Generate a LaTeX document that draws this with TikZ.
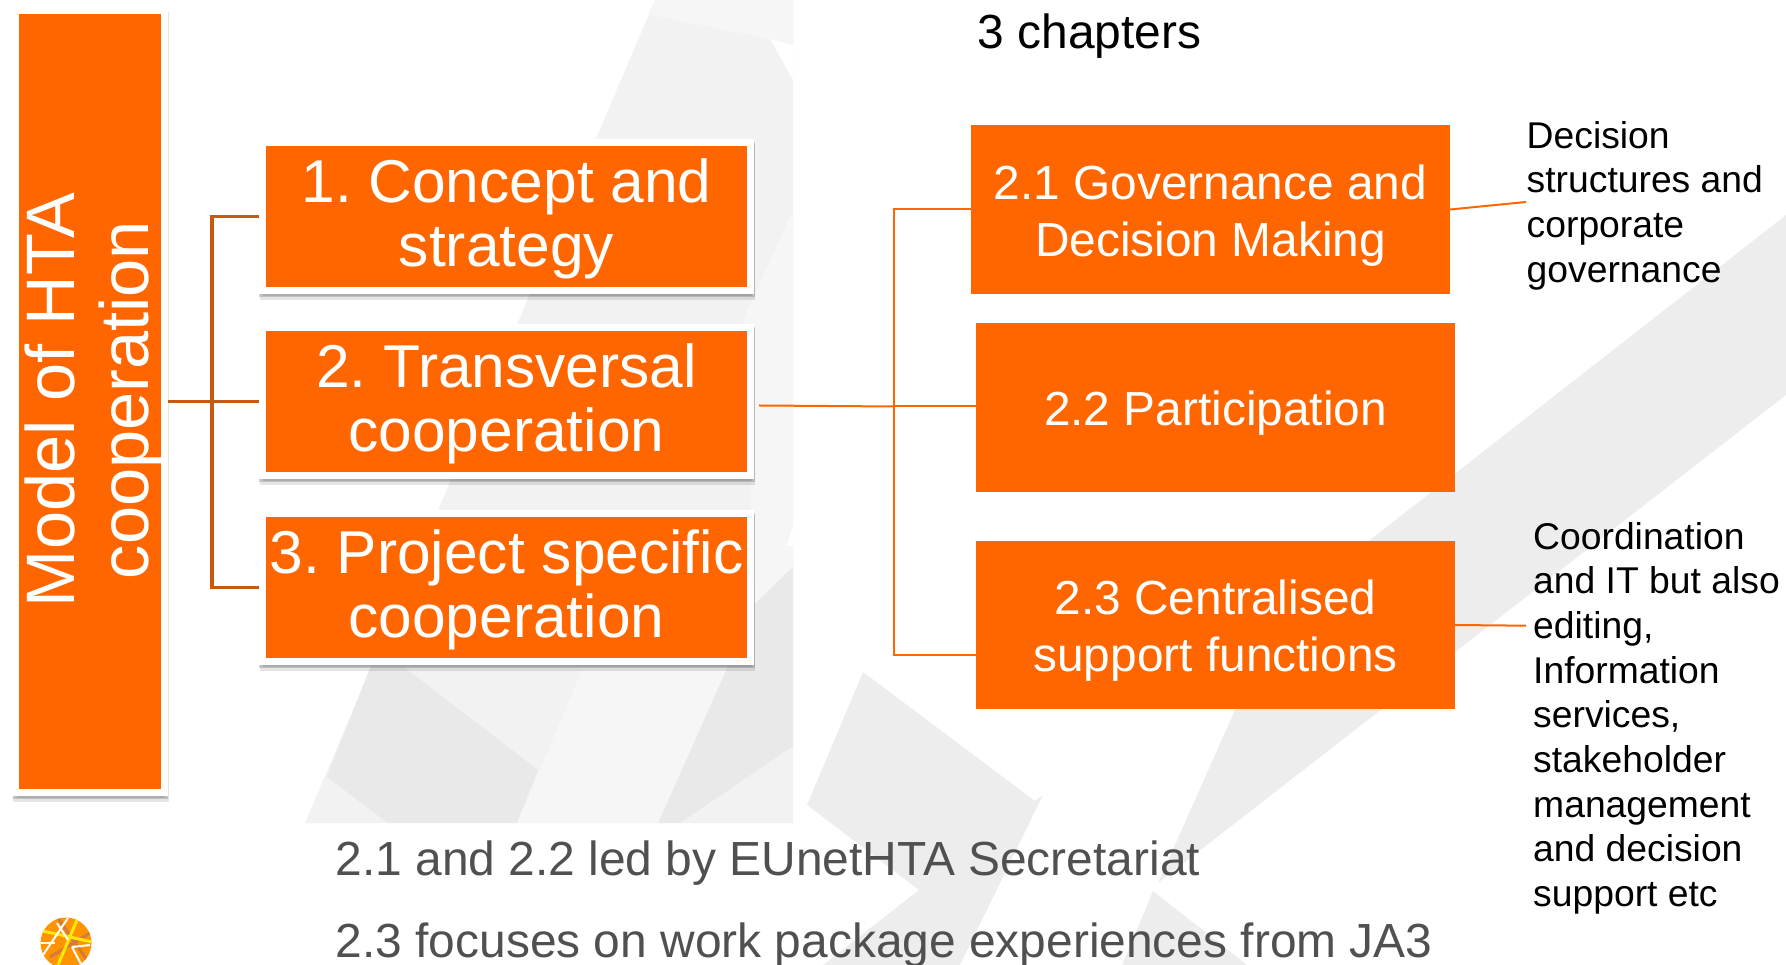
\documentclass[tikz,border=0pt]{standalone}
\usepackage{fontspec}
\setmainfont{Liberation Sans}
\frenchspacing
\usetikzlibrary{positioning,shadows}
\definecolor{htaorange}{HTML}{FF6600}
\definecolor{htabrown}{HTML}{C55A11}
\definecolor{htagrey}{HTML}{505050}
\newcommand{\subup}{\rule{0pt}{0.46cm}}
\newcommand{\levelup}{\rule{0pt}{0.48cm}}
\newcommand{\modelup}{\rule{0pt}{0.57cm}}
\tikzset{
    softshadow/.style={
        drop shadow={shadow xshift=0.01cm,shadow yshift=-0.055cm,opacity=0.1,fill=black,draw=black},
        drop shadow={shadow xshift=0.005cm,shadow yshift=-0.03cm,opacity=0.16,fill=black,draw=black}},
    mainbox/.style={rectangle,fill=htaorange,draw=white,line width=0.07cm,inner sep=0pt,
        text=white,align=center,softshadow,font=\fontsize{17.2}{18.3}\selectfont},
    levelbox/.style={mainbox,minimum width=4.88cm,minimum height=1.48cm},
    subbox/.style={rectangle,fill=htaorange,inner sep=0pt,outer sep=0pt,minimum width=4.79cm,
        minimum height=1.685cm,text=white,align=center,font=\fontsize{13.6}{16.2}\selectfont},
    notetext/.style={inner sep=0pt,align=left,text=black,font=\fontsize{10.6}{12.7}\selectfont},
    leadtext/.style={inner sep=0pt,anchor=base west,text=htagrey,font=\fontsize{13.62}{16}\selectfont},
    treeline/.style={draw=htabrown,line width=0.035cm},
    subline/.style={draw=htaorange,line width=0.02cm},
    bgone/.style={fill=black!5},
    bgtwo/.style={fill=black!8.5},
    bgthree/.style={fill=black!3.5},
    bgfour/.style={fill=black!7}
}
\begin{document}
\begin{tikzpicture}[x=0.01cm,y=-0.01cm]
        \useasboundingbox (0,0) rectangle (1786,965);
        % Background
        \begin{scope}
        \clip (0,0) rectangle (1786,965);
        \fill[bgone] (655,0) -- (793,0) -- (793,823) -- (305,823) -- cycle;
        \fill[bgthree] (655,0) -- (793,0) -- (793,45) -- (770,39) -- (650,15) -- cycle;
        \fill[white] (770,39) -- (793,45) -- (793,80) -- cycle;
        \fill[bgthree] (743,320) -- (793,210) -- (793,567) -- (755,604) -- cycle;
        \fill[white] (793,525) -- (787,546) -- (793,546) -- cycle;
        \fill[bgtwo] (793,567) -- (793,746) -- (680,823) -- (658,823) -- (727,668) -- (755,604) -- cycle;
        \fill[bgtwo] (370,668) -- (405,668) -- (538,770) -- (517,823) -- (388,823) -- (327,777) -- cycle;
        \fill[bgthree] (583,668) -- (727,668) -- (658,823) -- (517,823) -- cycle;
        \fill[bgfour] (863,672) -- (1035,801) -- (1043,795) -- (960,965) -- (823,965) -- (919,890) -- (807,805) -- cycle;
        \fill[bgfour] (1786,215) -- (1279,611) -- (1158,883) -- (1786,395) -- cycle;
        \fill[bgfour] (1153,891) -- (1247,965) -- (1122,965) -- cycle;
        \end{scope}
        % Logo
        \begin{scope}
        \clip (0,0) rectangle (1786,965);
        \clip (66,943) circle (25.5);
        \fill[orange!85!yellow] (40,917) rectangle (92,969);
        \draw[htabrown!80,line width=0.03cm] (50,957) -- (90,933);
        \draw[htabrown!80,line width=0.03cm] (58,918) -- (87,960);
        \draw[yellow!90!orange,line width=0.03cm] (77,920) -- (58,965);
        \draw[yellow!90!orange,line width=0.03cm] (43,931) -- (92,942);
        \draw[white,line width=0.02cm] (68,918) -- (43,955);
        \draw[white,line width=0.02cm] (57,923) -- (68,940);
        \draw[white,line width=0.02cm] (40,943) -- (55,943);
        \draw[white,line width=0.02cm] (72,947) -- (90,945);
        \draw[white,line width=0.02cm] (72,947) -- (82,966);
        \end{scope}
        % Boxes
        \node[mainbox,rotate=90,minimum width=7.82cm,minimum height=1.485cm,
            font=\fontsize{19.5}{21}\selectfont]
            (model) at (90,401.5) {\modelup\hspace*{0.03cm}Model of HTA\\\hspace*{0.03cm}cooperation};
        \node[levelbox] (concept) at (506.5,216.5) {\levelup 1. Concept and\\strategy};
        \node[levelbox] (transversal) at (506.5,401.5) {\levelup 2. Transversal\\cooperation};
        \node[levelbox] (project) at (506.5,587.5) {\levelup 3. Project specific\\cooperation};
        \node[subbox] (governance) at (1210.5,209.5) {\subup 2.1 Governance and\\Decision Making};
        \node[subbox] (participation) at (1215.5,407.7) {\subup 2.2 Participation};
        \node[subbox] (support) at (1215.5,625) {\subup 2.3 Centralised\\support functions};
        % Texts
        \node[leadtext,text=black] (chapters) at (977,49) {3 chapters};
        \node[notetext,anchor=west] (decision) at (1526,205.5) {Decision\\structures and\\corporate\\governance};
        \node[notetext,anchor=north west] (coordination) at (1532.5,521.5) {Coordination\\and IT but also\\editing,\\Information\\services,\\stakeholder\\management\\and decision\\support etc};
        \node[leadtext] (ledby) at (335,875) {2.1 and 2.2 led by EUnetHTA Secretariat};
        \node[leadtext] (focus) at (335,957) {2.3 focuses on work package experiences from JA3};
        % Edges
        \coordinate (trunk) at (212,401.5);
        \coordinate (hub) at (894,406.5);
        \coordinate (hubstart) at (759,405.5);
        \coordinate (supportin) at (977,655);
        \coordinate (decisionend) at (1526,202);
        \coordinate (coordend) at (1526,625.7);
        \draw[treeline] (model.south) -- (transversal.west);
        \draw[treeline] (concept.west) -| (trunk) |- (project.west);
        \draw[subline] (hubstart) -- (hub);
        \draw[subline] (hub) -- (hub -| participation.west);
        \draw[subline] (governance.west) -| (hub) |- (supportin);
        \draw[subline] (governance.east) -- (decisionend);
        \draw[subline] (support.east) -- (coordend);
    \end{tikzpicture}
\end{document}
